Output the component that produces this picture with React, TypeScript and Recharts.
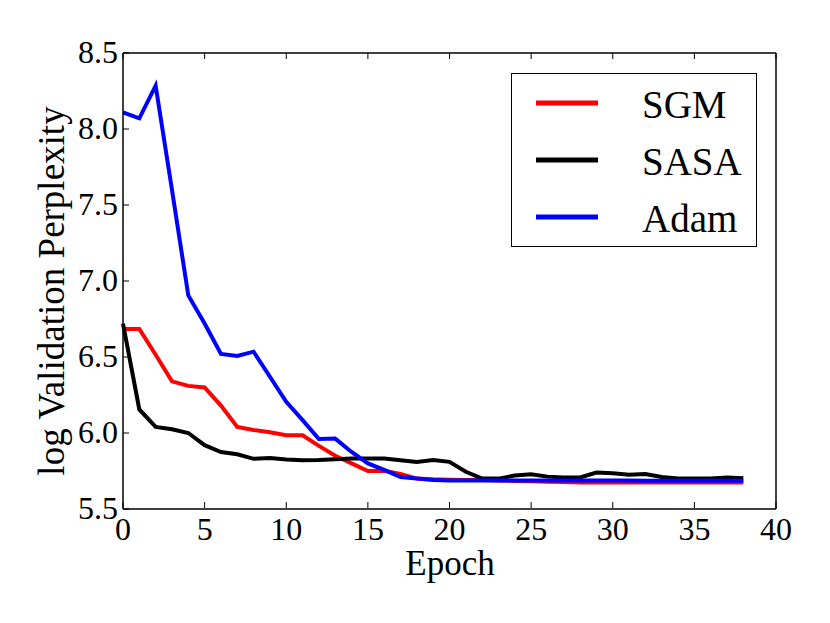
import { LineChart, Line, XAxis, YAxis, Legend } from 'recharts';

const epochs = Array.from({ length: 39 }, (_, i) => i);

const seriesNames = ['SGM', 'SASA', 'Adam'];

const sgm = [
  6.685, 6.685, 6.515, 6.34, 6.31, 6.3, 6.18, 6.04, 6.02, 6.005,
  5.985, 5.985, 5.915, 5.85, 5.8, 5.75, 5.752, 5.73, 5.7, 5.695,
  5.693, 5.69, 5.69, 5.688, 5.685, 5.683, 5.68, 5.678, 5.675, 5.675,
  5.675, 5.675, 5.675, 5.675, 5.675, 5.675, 5.675, 5.675, 5.675,
];

const sasa = [
  6.72, 6.155, 6.04, 6.025, 6.0, 5.92, 5.875, 5.86, 5.83, 5.835,
  5.825, 5.82, 5.822, 5.828, 5.832, 5.833, 5.832, 5.82, 5.81, 5.822,
  5.81, 5.745, 5.7, 5.7, 5.72, 5.728, 5.713, 5.707, 5.707, 5.74,
  5.735, 5.725, 5.73, 5.71, 5.7, 5.7, 5.7, 5.708, 5.703,
];

const adam = [
  8.11, 8.07, 8.285, 7.6, 6.905, 6.72, 6.52, 6.507, 6.535, 6.37,
  6.205, 6.085, 5.96, 5.963, 5.875, 5.8, 5.757, 5.71, 5.7, 5.69,
  5.688, 5.688, 5.688, 5.688, 5.688, 5.688, 5.687, 5.687, 5.687, 5.687,
  5.687, 5.687, 5.686, 5.686, 5.686, 5.686, 5.686, 5.686, 5.686,
];

const xTicks = [0, 5, 10, 15, 20, 25, 30, 35, 40];
const yTicks = [5.5, 6.0, 6.5, 7.0, 7.5, 8.0, 8.5];

const data = epochs.map((e, i) => ({ epoch: e, SGM: sgm[i], SASA: sasa[i], Adam: adam[i] }));

const FONT = '"Liberation Serif", "Times New Roman", serif';
const TICK_LEN = 6;

function BottomTick({ x, y, payload }: any) {
  return (
    <g>
      <line x1={x} y1={y - 1} x2={x} y2={y - 1 - TICK_LEN} stroke="#000" strokeWidth={1} />
      <text x={x} y={y + 31} textAnchor="middle" fontSize={32} fontFamily={FONT} fill="#000">
        {payload.value}
      </text>
    </g>
  );
}

function TopTick({ x, y }: any) {
  return <line x1={x} y1={y} x2={x} y2={y + TICK_LEN} stroke="#000" strokeWidth={1} />;
}

function LeftTick({ x, y, payload }: any) {
  return (
    <g>
      <line x1={x} y1={y} x2={x + TICK_LEN} y2={y} stroke="#000" strokeWidth={1} />
      <text x={x - 5} y={y + 10} textAnchor="end" fontSize={32} fontFamily={FONT} fill="#000">
        {Number(payload.value).toFixed(1)}
      </text>
    </g>
  );
}

function RightTick({ x, y }: any) {
  return <line x1={x} y1={y} x2={x - TICK_LEN} y2={y} stroke="#000" strokeWidth={1} />;
}

function LegendBox({ payload }: any) {
  const items = [...(payload || [])].sort(
    (a: any, b: any) => seriesNames.indexOf(a.value) - seriesNames.indexOf(b.value),
  );
  return (
    <div style={{ width: 246, height: 174, border: '1.5px solid #000', boxSizing: 'border-box', background: '#fff' }}>
      <svg width={243} height={171} style={{ display: 'block' }}>
        {items.map((p: any, i: number) => (
          <g key={p.value}>
            <line x1={24} x2={86} y1={29 + i * 57} y2={29 + i * 57} stroke={p.color} strokeWidth={5} />
            <text x={130} y={44 + i * 57} fontSize={39} fontFamily={FONT} fill="#000">
              {p.value}
            </text>
          </g>
        ))}
      </svg>
    </div>
  );
}

export default function App() {
  return (
    <div style={{ position: 'absolute', left: 0, top: 0, width: 830, height: 623, background: '#fff' }}>
      <LineChart width={830} height={623} data={data} margin={{ top: 52, right: 53, bottom: 113, left: 122 }}>
        <XAxis
          dataKey="epoch"
          type="number"
          domain={[0, 40]}
          ticks={xTicks}
          height={1}
          tickSize={0}
          tickMargin={0}
          tickLine={false}
          tick={<BottomTick />}
          axisLine={{ stroke: '#000', strokeWidth: 1.5 }}
          label={{
            content: () => (
              <text x={450} y={575} textAnchor="middle" fontSize={35} fontFamily={FONT} fill="#000">
                Epoch
              </text>
            ),
          }}
        />
        <XAxis
          xAxisId="top"
          dataKey="epoch"
          orientation="top"
          type="number"
          domain={[0, 40]}
          ticks={xTicks}
          height={1}
          tickSize={0}
          tickMargin={0}
          tickLine={false}
          tick={<TopTick />}
          axisLine={{ stroke: '#000', strokeWidth: 1.5 }}
        />
        <YAxis
          type="number"
          domain={[5.5, 8.5]}
          ticks={yTicks}
          width={1}
          tickSize={0}
          tickMargin={0}
          tickLine={false}
          tick={<LeftTick />}
          axisLine={{ stroke: '#000', strokeWidth: 1.5 }}
          label={{
            content: () => (
              <text
                x={64}
                y={291}
                transform="rotate(-90, 64, 291)"
                textAnchor="middle"
                fontSize={37}
                fontFamily={FONT}
                fill="#000"
              >
                log Validation Perplexity
              </text>
            ),
          }}
        />
        <YAxis
          yAxisId="right"
          orientation="right"
          type="number"
          domain={[5.5, 8.5]}
          ticks={yTicks}
          width={1}
          tickSize={0}
          tickMargin={0}
          tickLine={false}
          tick={<RightTick />}
          axisLine={{ stroke: '#000', strokeWidth: 1.5 }}
        />
        <Legend
          layout="horizontal"
          verticalAlign="middle"
          align="center"
          content={<LegendBox />}
          wrapperStyle={{ left: 511, top: 73, width: 246, height: 174 }}
        />
        <Line dataKey="SGM" stroke="#ff0000" strokeWidth={4} dot={false} isAnimationActive={false} />
        <Line dataKey="SASA" stroke="#000000" strokeWidth={4} dot={false} isAnimationActive={false} />
        <Line dataKey="Adam" stroke="#0000ff" strokeWidth={4} dot={false} isAnimationActive={false} />
      </LineChart>
    </div>
  );
}
